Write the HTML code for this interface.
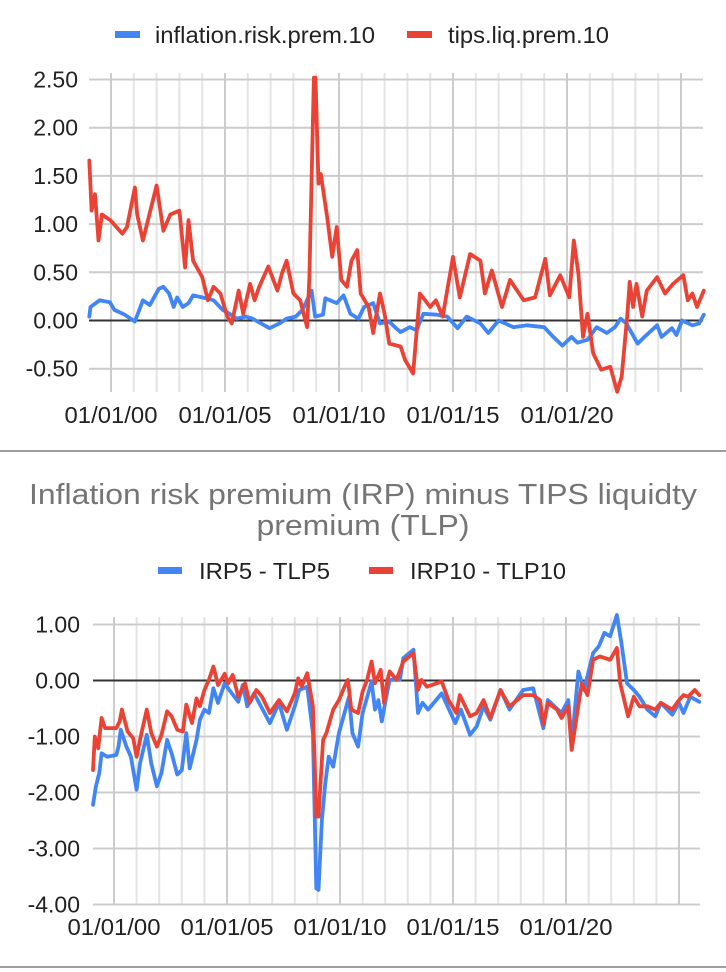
<!DOCTYPE html>
<html><head><meta charset="utf-8">
<style>
html,body{margin:0;padding:0;background:#fff;}
svg{display:block;font-family:"Liberation Sans",Arial,sans-serif;}
</style></head>
<body>
<svg id="root" width="726" height="972" viewBox="0 0 726 972" xmlns="http://www.w3.org/2000/svg">
  <g>
    <rect x="115" y="31" width="25" height="7" fill="#4285f4"/>
    <text x="155" y="43" font-size="23" fill="#222" textLength="220" lengthAdjust="spacingAndGlyphs">inflation.risk.prem.10</text>
    <rect x="407" y="31" width="25" height="7" fill="#ea4335"/>
    <text x="448" y="43" font-size="23" fill="#222" textLength="161" lengthAdjust="spacingAndGlyphs">tips.liq.prem.10</text>
  </g>
  <g id="top-chart"></g>
  <rect x="0" y="450" width="726" height="2" fill="#9e9e9e"/>
  <g>
    <text x="363" y="504" font-size="29" fill="#757575" text-anchor="middle" textLength="668" lengthAdjust="spacingAndGlyphs">Inflation risk premium (IRP) minus TIPS liquidty</text>
    <text x="363" y="535" font-size="29" fill="#757575" text-anchor="middle" textLength="213" lengthAdjust="spacingAndGlyphs">premium (TLP)</text>
  </g>
  <g>
    <rect x="158" y="567" width="24" height="7" fill="#4285f4"/>
    <text x="199" y="579" font-size="23" fill="#222" textLength="131" lengthAdjust="spacingAndGlyphs">IRP5 - TLP5</text>
    <rect x="369" y="567" width="24" height="7" fill="#ea4335"/>
    <text x="410" y="579" font-size="23" fill="#222" textLength="156" lengthAdjust="spacingAndGlyphs">IRP10 - TLP10</text>
  </g>
  <g id="bottom-chart"></g>
  <rect x="0" y="966" width="726" height="2" fill="#9e9e9e"/>
</svg>
<script>
// ---------- data ----------
const xTickLabels = ["01/01/00","01/01/05","01/01/10","01/01/15","01/01/20"];
const xTickYears = [2000,2005,2010,2015,2020];
const topYTicks = [2.5,2.0,1.5,1.0,0.5,0.0,-0.5];
const topYTickLabels = ["2.50","2.00","1.50","1.00","0.50","0.00","-0.50"];
const botYTicks = [1,0,-1,-2,-3,-4];
const botYTickLabels = ["1.00","0.00","-1.00","-2.00","-3.00","-4.00"];

const irpDates = [1999.05,1999.1,1999.5,1999.95,2000.15,2000.6,2001.05,2001.4,2001.7,2002.1,2002.3,2002.55,2002.75,2002.9,2003.15,2003.4,2003.6,2004.0,2004.5,2004.9,2005.2,2005.5,2005.9,2006.2,2006.95,2007.4,2007.7,2008.1,2008.4,2008.8,2008.95,2009.3,2009.4,2009.9,2010.2,2010.5,2010.85,2011.1,2011.5,2011.8,2012.2,2012.45,2012.7,2013.1,2013.4,2013.7,2014.3,2014.75,2015.2,2015.6,2016.2,2016.55,2017.0,2017.65,2018.25,2019.0,2019.4,2019.8,2020.2,2020.45,2020.9,2021.3,2021.75,2022.1,2022.35,2022.6,2023.1,2023.4,2023.95,2024.15,2024.6,2024.8,2025.05,2025.5,2025.8,2026.0];
const irpValues = [0.04,0.14,0.21,0.19,0.11,0.06,-0.01,0.21,0.16,0.33,0.35,0.28,0.14,0.24,0.14,0.18,0.26,0.24,0.21,0.11,0.07,0.02,0.04,0.02,-0.08,-0.03,0.02,0.04,0.11,0.31,0.04,0.06,0.23,0.18,0.26,0.07,0.02,0.14,0.18,-0.03,-0.01,-0.07,-0.12,-0.07,-0.1,0.07,0.06,0.04,-0.08,0.04,-0.03,-0.13,0.0,-0.07,-0.05,-0.07,-0.17,-0.26,-0.17,-0.23,-0.2,-0.07,-0.13,-0.07,0.02,-0.03,-0.24,-0.17,-0.05,-0.17,-0.08,-0.15,0.0,-0.05,-0.03,0.06];

const tipsDates = [1999.05,1999.15,1999.3,1999.45,1999.6,1999.97,2000.5,2000.7,2001.05,2001.15,2001.4,2002.0,2002.3,2002.6,2003.0,2003.25,2003.4,2003.6,2004.0,2004.25,2004.5,2004.8,2005.1,2005.3,2005.6,2005.8,2006.1,2006.3,2006.5,2006.9,2007.3,2007.5,2007.7,2008.0,2008.3,2008.6,2008.7,2008.9,2008.97,2009.1,2009.2,2009.5,2009.7,2009.9,2010.1,2010.35,2010.55,2010.8,2010.95,2011.3,2011.5,2011.8,2012.0,2012.2,2012.7,2012.9,2013.25,2013.55,2014.0,2014.25,2014.55,2015.0,2015.3,2015.75,2016.2,2016.4,2016.7,2017.15,2017.5,2018.1,2018.6,2019.05,2019.25,2019.7,2020.1,2020.3,2020.5,2020.7,2020.9,2021.15,2021.5,2021.9,2022.2,2022.4,2022.65,2022.75,2022.9,2023.05,2023.3,2023.5,2023.95,2024.3,2024.65,2025.1,2025.3,2025.5,2025.7,2026.0];
const tipsValues = [1.66,1.14,1.31,0.83,1.1,1.04,0.9,0.97,1.38,1.1,0.83,1.4,0.93,1.1,1.14,0.55,1.04,0.62,0.45,0.21,0.35,0.28,0.04,-0.03,0.31,0.07,0.38,0.21,0.35,0.56,0.31,0.49,0.62,0.28,0.21,-0.07,0.45,2.52,2.52,1.42,1.52,1.04,0.66,0.97,0.42,0.35,0.62,0.73,0.28,0.14,-0.13,0.28,0.07,-0.24,-0.27,-0.41,-0.55,0.28,0.14,0.21,0.04,0.66,0.24,0.69,0.62,0.28,0.52,0.14,0.42,0.21,0.24,0.64,0.26,0.47,0.24,0.83,0.49,-0.17,0.07,-0.34,-0.51,-0.48,-0.74,-0.58,0.07,0.4,0.14,0.38,0.04,0.31,0.45,0.28,0.38,0.47,0.21,0.28,0.14,0.31];

const d10Dates = [1999.07,1999.15,1999.3,1999.45,1999.6,2000.1,2000.25,2000.35,2000.6,2000.85,2001.0,2001.2,2001.45,2001.65,2001.9,2002.1,2002.35,2002.55,2002.8,2003.05,2003.2,2003.45,2003.65,2003.8,2004.0,2004.2,2004.4,2004.6,2004.9,2005.05,2005.25,2005.5,2005.8,2006.0,2006.3,2006.55,2006.9,2007.3,2007.65,2008.0,2008.15,2008.3,2008.55,2008.8,2008.95,2009.05,2009.25,2009.4,2009.7,2009.95,2010.2,2010.35,2010.5,2010.8,2011.0,2011.2,2011.4,2011.55,2011.8,2011.95,2012.1,2012.2,2012.5,2012.8,2013.25,2013.45,2013.6,2013.85,2014.5,2014.8,2015.15,2015.3,2015.75,2016.05,2016.35,2016.65,2017.1,2017.5,2018.1,2018.55,2018.85,2019.0,2019.2,2019.6,2019.8,2020.1,2020.25,2020.45,2020.7,2020.95,2021.2,2021.5,2021.95,2022.25,2022.4,2022.75,2023.0,2023.25,2023.6,2023.95,2024.2,2024.7,2025.0,2025.2,2025.4,2025.7,2025.9];
const d10Values = [-1.6,-1.0,-1.21,-0.67,-0.85,-0.85,-0.73,-0.52,-0.91,-1.03,-1.36,-0.97,-0.52,-0.94,-1.18,-0.97,-0.55,-0.64,-0.88,-0.91,-0.43,-0.76,-0.32,-0.46,-0.17,0.01,0.25,-0.08,0.12,-0.05,0.1,-0.29,-0.05,-0.4,-0.17,-0.29,-0.58,-0.35,-0.55,-0.23,0.04,-0.11,0.13,-0.46,-2.43,-2.43,-1.06,-0.94,-0.52,-0.35,-0.11,0.01,-0.52,-0.58,-0.2,0.01,0.34,-0.05,0.19,-0.4,0.01,0.16,0.01,0.34,0.49,-0.17,0.01,-0.11,-0.02,-0.35,-0.58,-0.26,-0.64,-0.58,-0.35,-0.67,-0.17,-0.46,-0.26,-0.26,-0.35,-0.79,-0.4,-0.52,-0.67,-0.46,-1.24,-0.7,-0.05,-0.26,0.37,0.43,0.37,0.58,-0.05,-0.64,-0.29,-0.46,-0.46,-0.52,-0.4,-0.52,-0.35,-0.26,-0.29,-0.17,-0.26];

const d5Dates = [1999.07,1999.2,1999.35,1999.45,1999.7,2000.1,2000.2,2000.3,2000.55,2000.75,2001.0,2001.15,2001.45,2001.65,2001.9,2002.1,2002.35,2002.55,2002.8,2003.0,2003.2,2003.35,2003.65,2003.8,2004.0,2004.2,2004.4,2004.6,2004.9,2005.1,2005.5,2005.7,2005.9,2006.2,2006.9,2007.3,2007.65,2008.0,2008.2,2008.55,2008.8,2008.95,2009.05,2009.2,2009.35,2009.5,2009.7,2009.95,2010.2,2010.4,2010.55,2010.8,2011.0,2011.4,2011.55,2011.7,2011.85,2012.05,2012.2,2012.65,2012.8,2013.25,2013.45,2013.65,2013.9,2014.5,2015.1,2015.35,2015.75,2016.05,2016.35,2016.65,2017.1,2017.5,2018.1,2018.55,2019.0,2019.2,2019.8,2020.1,2020.25,2020.55,2020.8,2021.2,2021.45,2021.7,2021.95,2022.25,2022.45,2022.7,2023.0,2023.25,2023.6,2023.95,2024.2,2024.7,2025.0,2025.2,2025.5,2025.9];
const d5Values = [-2.22,-1.89,-1.65,-1.3,-1.36,-1.33,-1.18,-0.88,-1.18,-1.36,-1.95,-1.48,-0.97,-1.48,-1.89,-1.65,-1.06,-1.3,-1.68,-1.6,-0.94,-1.57,-1.06,-0.7,-0.52,-0.58,-0.14,-0.4,-0.05,-0.17,-0.38,-0.08,-0.46,-0.23,-0.76,-0.4,-0.88,-0.46,-0.17,-0.11,-0.94,-3.71,-3.74,-2.49,-1.83,-1.36,-1.54,-0.94,-0.58,-0.29,-0.94,-1.18,-0.58,-0.02,-0.52,-0.35,-0.73,-0.29,0.01,0.01,0.4,0.55,-0.58,-0.4,-0.52,-0.23,-0.76,-0.52,-0.97,-0.82,-0.46,-0.7,-0.17,-0.52,-0.17,-0.14,-0.85,-0.35,-0.58,-0.35,-1.12,0.16,-0.17,0.49,0.61,0.85,0.79,1.17,0.67,-0.05,-0.17,-0.29,-0.52,-0.64,-0.4,-0.61,-0.4,-0.58,-0.29,-0.38];

// ---------- drawing ----------
const NS = "http://www.w3.org/2000/svg";
function mk(tag, attrs, parent) {
  const el = document.createElementNS(NS, tag);
  for (const k in attrs) el.setAttribute(k, attrs[k]);
  parent.appendChild(el);
  return el;
}

function drawChart(g, cfg) {
  const xScale = t => cfg.x0 + (t - 2000) * cfg.pxPerYear;
  const yScale = v => cfg.yZero - v * cfg.pxPerUnit;
  for (let yr = 1999; yr <= 2026; yr++) {
    const x = xScale(yr);
    if (x < cfg.left - 0.5 || x > cfg.right + 0.5) continue;
    const major = (yr % 5 === 0);
    const ln = mk("line", {x1:x, x2:x, y1:cfg.top - 7, y2:cfg.bottom, stroke: major ? "#cccccc" : "#e4e4e4", "stroke-width": 2}, g);
    
    
  }
  cfg.yTicks.forEach((v, i) => {
    const y = yScale(v);
    const ln = mk("line", {x1:cfg.left, x2:cfg.right, y1:y, y2:y, stroke: v === 0 ? "#333333" : "#cccccc", "stroke-width": 2}, g);
    
    
    const tx = mk("text", {x: cfg.labelRight, y: y + 8, "font-size": 23, fill: "#222", "text-anchor": "end"}, g);
    tx.textContent = cfg.yLabels[i];
    
    
  });
  xTickYears.forEach((yr, i) => {
    const tx = mk("text", {x: xScale(yr), y: cfg.xLabelY, "font-size": 23, fill: "#222", "text-anchor": "middle", textLength: 93, lengthAdjust: "spacingAndGlyphs"}, g);
    tx.textContent = xTickLabels[i];
    
    
  });
  cfg.series.forEach(s => {
    const pts = s.dates.map((t, i) => xScale(t).toFixed(1) + "," + yScale(s.values[i]).toFixed(1)).join(" ");
    const pl = mk("polyline", {points: pts, fill: "none", stroke: s.color, "stroke-width": 3.8, "stroke-linejoin": "round", "stroke-linecap": "round"}, g);
    
    
  });
}

drawChart(document.getElementById("top-chart"), {
  x0: 111, pxPerYear: 22.8, yZero: 320.5, pxPerUnit: 96.4,
  left: 89, right: 703, top: 80, bottom: 392, labelRight: 78, xLabelY: 423,
  yTicks: topYTicks, yLabels: topYTickLabels,
  series: [
    {name: "line-inflation-risk-prem-10", dates: irpDates, values: irpValues, color: "#4285f4"},
    {name: "line-tips-liq-prem-10", dates: tipsDates, values: tipsValues, color: "#ea4335"}
  ]
});

drawChart(document.getElementById("bottom-chart"), {
  x0: 114, pxPerYear: 22.6, yZero: 680.5, pxPerUnit: 56,
  left: 93, right: 700, top: 624, bottom: 904, labelRight: 80, xLabelY: 935,
  yTicks: botYTicks, yLabels: botYTickLabels,
  series: [
    {name: "line-irp5-minus-tlp5", dates: d5Dates, values: d5Values, color: "#4285f4"},
    {name: "line-irp10-minus-tlp10", dates: d10Dates, values: d10Values, color: "#ea4335"}
  ]
});
</script>
</body></html>
